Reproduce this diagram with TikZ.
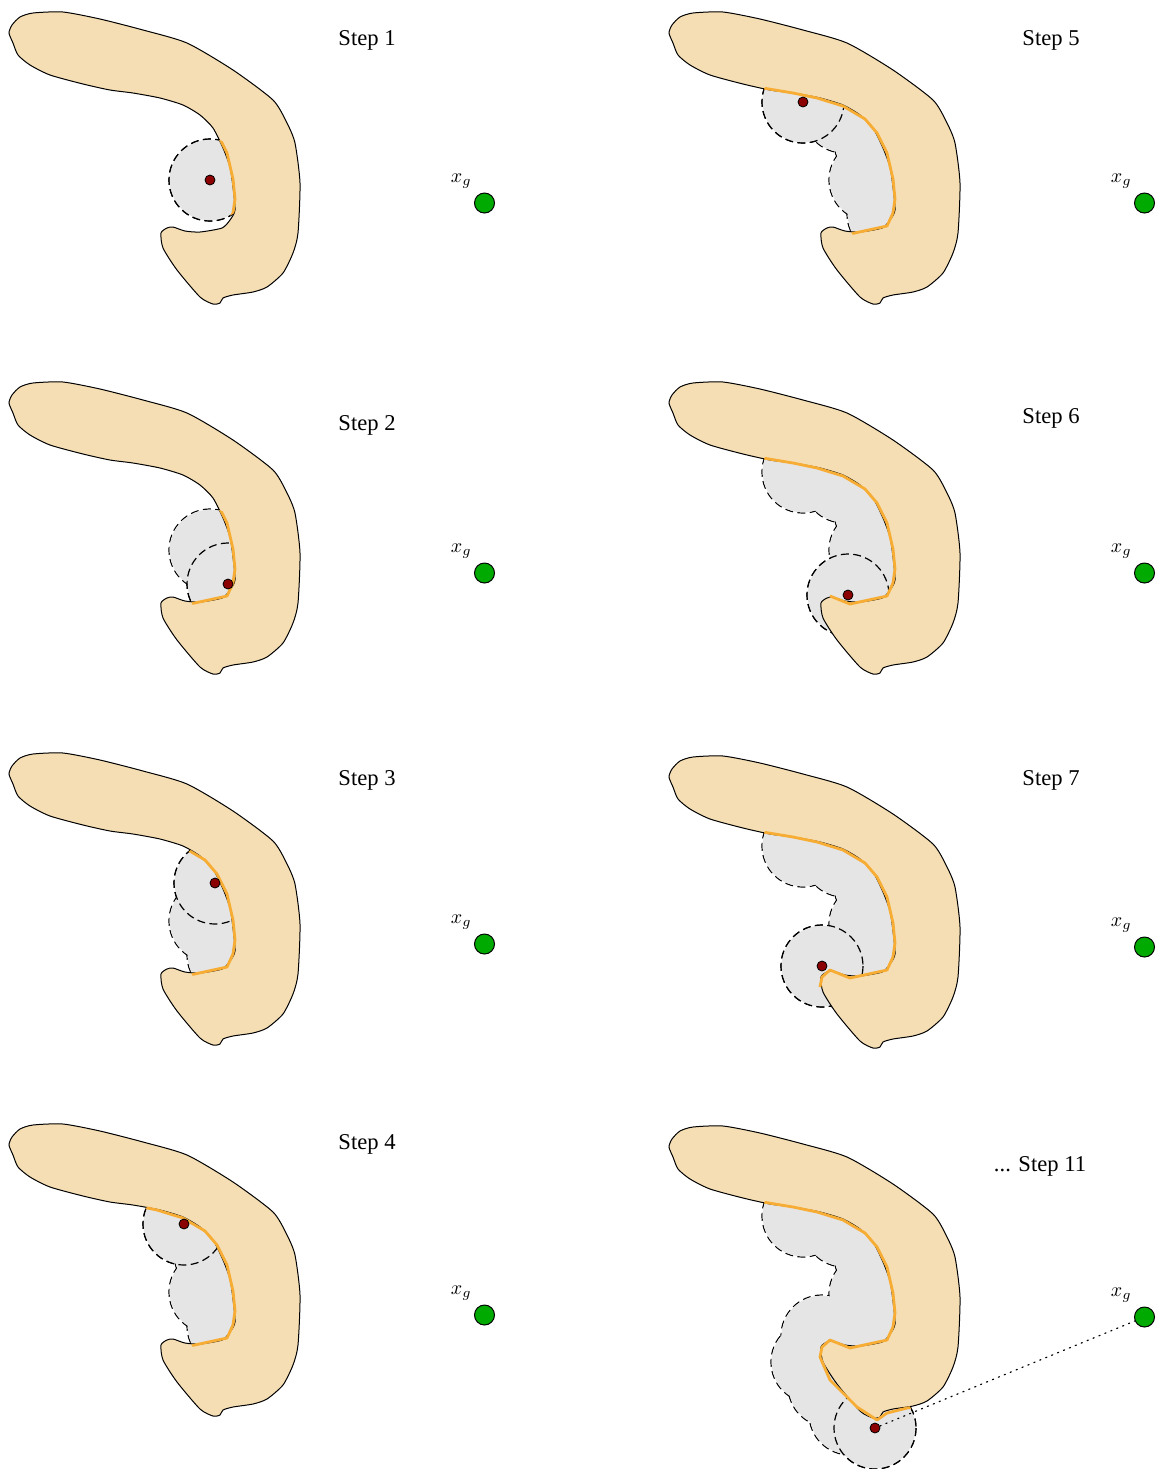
\documentclass[tikz,border=0pt]{standalone}
\usepackage{fontspec}
\setmainfont{Liberation Serif}
\usetikzlibrary{positioning}

\definecolor{obstaclefill}{RGB}{245,222,179}
\definecolor{traceorange}{RGB}{247,172,52}
\definecolor{robotred}{RGB}{139,0,0}
\definecolor{goalgreen}{RGB}{0,170,0}

% obstacle outline, in pixels of one panel (y downwards)
\newcommand{\obstaclepath}{plot[smooth cycle, tension=0.4] coordinates {
  (9,33) (12,25) (20,17) (33,13) (63,12) (100,19) (143,30) (187,43) (233,70)
  (273,100) (287,123) (295,143) (300,183) (298,233) (293,253) (283,273)
  (267,287) (253,292) (233,295) (223,298) (220,303) (213,304) (200,297)
  (177,270) (163,248) (161,233) (167,228) (173,227) (185,231) (200,232)
  (222,228) (230,220) (235,210) (233,187) (230,167) (223,148) (213,128)
  (200,115) (183,105) (160,98) (133,93) (110,90) (83,84) (50,75) (30,65)
  (18,55) (13,43)}}
% followed boundary
\newcommand{\traceA}{(85,85) -- (103,88) -- (133,93) -- (157,98) -- (183,106)
  -- (205,119) -- (217,133) -- (227,153) -- (233,179) -- (235,199) -- (233,213)
  -- (227,226) -- (190,234)}
\newcommand{\traceB}{-- (170,226) -- (162,233) -- (160,243) -- (170,266)
  -- (197,293) -- (217,306) -- (227,299) -- (247,294) -- (262,292)}

% #1 name, #2 shift, #3 sensed centres, #4 robot, #5 trace, #6 label pos, #7 label
\newcommand{\panel}[7]{%
\begin{scope}[shift={#2}]
  \foreach \x/\y in {#3} \draw[sensedge] (\x,\y) circle (41);
  \foreach \x/\y in {#3} \fill[sensed] (\x,\y) circle (40.4);
  \draw[sensedge] #4 circle (41);
  \draw[obstacle] \obstaclepath;
  \begin{scope}
    \clip \foreach \x/\y in {#3} {(\x,\y) circle (41)};
    \draw[trace] #5;
  \end{scope}
  \node[robot] (robot#1) at #4 {};
  \node[goal] (goal#1) at (484.5,203) {};
  \node[above left=0.2pt and -0.8pt of goal#1] (xg#1) {$x_g$};
  \node[steplabel] (label#1) at #6 {#7};
\end{scope}}

\begin{document}
\begin{tikzpicture}[x=0.5pt, y=-0.5pt,
    obstacle/.style={draw=black, line width=0.5pt, fill=obstaclefill},
    sensed/.style={fill=gray!20},
    sensedge/.style={draw=black, line width=0.6pt, dash pattern=on 4pt off 2.2pt},
    trace/.style={draw=traceorange, line width=1.4pt, line join=round},
    robot/.style={circle, draw=black, line width=0.4pt, fill=robotred, inner sep=0pt, minimum size=5pt},
    goal/.style={circle, draw=black, line width=0.5pt, fill=goalgreen, inner sep=0pt, minimum size=10pt},
    steplabel/.style={font=\fontsize{11.3}{13}\selectfont},
    toward/.style={draw=black, line width=0.6pt, dash pattern=on 0.6pt off 2.6pt, line cap=round}
  ]
  \useasboundingbox (0,0) rectangle (1163,1469);

  \panel{1}{(0,0)}{210/180}{(210,180)}{\traceA}{(367,40)}{Step 1}
  \panel{2}{(0,370)}{210/180,228/214}{(228,214)}{\traceA}{(367,55)}{Step 2}
  \panel{3}{(0,741)}{210/180,228/214,215/142}{(215,142)}{\traceA}{(367,39)}{Step 3}
  \panel{4}{(0,1112)}{210/180,228/214,215/142,184/112}{(184,112)}{\traceA}{(367,32)}{Step 4}
  \panel{5}{(660,0)}{210/180,228/214,215/142,184/112,143/102}{(143,102)}{\traceA}{(391,40)}{Step 5}
  \panel{6}{(660,370)}{210/180,228/214,215/142,184/112,143/102,188/225}{(188,225)}
    {\traceA -- (170,226)}{(391,48)}{Step 6}
  \panel{7}{(660,744)}{210/180,228/214,215/142,184/112,143/102,188/225,162/222}{(162,222)}
    {\traceA -- (170,226) -- (162,233) -- (160,243)}{(391,36)}{Step 7}
  \panel{8}{(660,1114)}{210/180,228/214,215/142,184/112,143/102,188/225,162/222,152/248,169/272,190/300,215/314}{(215,314)}
    {\traceA \traceB}{(380,52)}{... Step 11}

  \draw[toward] (robot8) -- (goal8);
\end{tikzpicture}
\end{document}
